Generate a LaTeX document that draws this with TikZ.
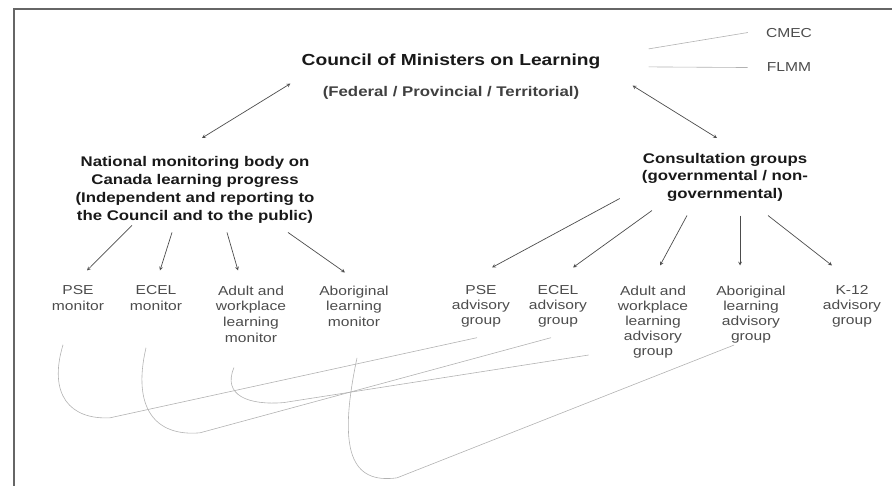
\documentclass[tikz,border=0pt]{standalone}
\usepackage{fontspec}
\setmainfont{Liberation Sans}[FakeStretch=1.2]
\usepackage{tikz}
\usepackage{xcolor}
\tikzstyle{head} = [font=\bfseries, text=black!90, inner sep=0pt, align=center, anchor=north]
\tikzstyle{leaf} = [text=black!70, inner sep=0pt, align=center, anchor=north]
\tikzstyle{arr} = [->, >=stealth, black!70, line width=0.7pt]
\tikzstyle{twoway} = [<->, >=stealth, black!70, line width=0.7pt]
\tikzstyle{swoosh} = [black!30, line width=0.6pt]
\tikzstyle{frame} = [black!60, line width=2.5pt]
\newcommand{\bigsize}{\fontsize{16}{19}\selectfont}
\newcommand{\midsize}{\fontsize{14}{18}\selectfont}
\newcommand{\smallsize}{\fontsize{13}{15.7}\selectfont}

\begin{document}
\begin{tikzpicture}[x=1pt,y=-1pt]
  \useasboundingbox (0,0) rectangle (892,486);
  \draw[frame] (14,486) -- (14,9) -- (892,9);

  \node[head, anchor=base, font=\bfseries\bigsize] (council) at (451,66) {Council of Ministers on Learning};
  \node[head, anchor=base, font=\bfseries\fontsize{14}{17}\selectfont, text=black!75] (fed) at (451,97) {(Federal / Provincial / Territorial)};
  \node[leaf, anchor=base, font=\smallsize] (cmec) at (789,38) {CMEC};
  \node[leaf, anchor=base, font=\smallsize] (flmm) at (789,72) {FLMM};

  \node[head, font=\bfseries\midsize] (nat) at (195,156) {National monitoring body on\\Canada learning progress\\(Independent and reporting to\\the Council and to the public)};
  \node[head, font=\bfseries\fontsize{14}{17.5}\selectfont] (cons) at (725,153) {Consultation groups\\(governmental / non-\\governmental)};

  % monitors
  \node[leaf, font=\smallsize] (psem) at (78,285.5) {PSE\\monitor};
  \node[leaf, font=\smallsize] (ecelm) at (156,285.5) {ECEL\\monitor};
  \node[leaf, font=\smallsize] (adultm) at (251,285.5) {Adult and\\workplace\\learning\\monitor};
  \node[leaf, font=\smallsize] (aborm) at (354,285.5) {Aboriginal\\learning\\monitor};

  % advisory groups
  \node[leaf, font=\fontsize{13}{15}\selectfont] (psea) at (481,285.5) {PSE\\advisory\\group};
  \node[leaf, font=\fontsize{13}{15}\selectfont] (ecela) at (558,285.5) {ECEL\\advisory\\group};
  \node[leaf, font=\fontsize{13}{15}\selectfont] (adulta) at (653,285.5) {Adult and\\workplace\\learning\\advisory\\group};
  \node[leaf, font=\fontsize{13}{15}\selectfont] (abora) at (751,285.5) {Aboriginal\\learning\\advisory\\group};
  \node[leaf, font=\fontsize{13}{15}\selectfont] (k12a) at (852,285.5) {K-12\\advisory\\group};

  \draw[swoosh] ([shift={(48,-13)}]council.east) -- ([shift={(-18,-1)}]cmec.west);
  \draw[swoosh] ([shift={(48,5)}]council.east) -- ([shift={(-19,0)}]flmm.west);

  \draw[twoway] ([shift={(7,-18)}]nat.north) -- ([shift={(-11,14)}]council.south west);
  \draw[twoway] ([shift={(32,16)}]council.south east) -- ([shift={(-8,-15)}]cons.north);

  \draw[arr] ([shift={(-63,2)}]nat.south) -- ([shift={(9,-15)}]psem.north);
  \draw[arr] ([shift={(-23,9)}]nat.south) -- ([shift={(4,-15)}]ecelm.north);
  \draw[arr] ([shift={(32,9)}]nat.south) -- ([shift={(-13,-15)}]adultm.north);
  \draw[arr] ([shift={(93,9)}]nat.south) -- ([shift={(-9,-13)}]aborm.north);

  \draw[arr] ([shift={(-22,-3)}]cons.south west) -- ([shift={(11,-18)}]psea.north);
  \draw[arr] ([shift={(-73,9)}]cons.south) -- ([shift={(15,-18)}]ecela.north);
  \draw[arr] ([shift={(-38,14)}]cons.south) -- ([shift={(7,-20)}]adulta.north);
  \draw[arr] ([shift={(15,14)}]cons.south) -- ([shift={(-11,-20)}]abora.north);
  \draw[arr] ([shift={(43,14)}]cons.south) -- ([shift={(-20,-20)}]k12a.north);

  % links between monitors and advisory groups
  \draw[swoosh] ([shift={(-15,34)}]psem.south) .. controls +(-15,50) and +(-40,2) .. ++(47,73) -- ([shift={(-4,10)}]psea.south);
  \draw[swoosh] ([shift={(-10,37)}]ecelm.south) .. controls +(-14,60) and +(-45,4) .. ++(54,85) -- ([shift={(-7,10)}]ecela.south);
  \draw[swoosh] ([shift={(-17,25)}]adultm.south) .. controls +(-12,28) and +(-35,3) .. ++(50,35) -- ([shift={(-29,-3)}]adulta.south west);
  \draw[swoosh] ([shift={(3,31)}]aborm.south) .. controls +(-20,95) and +(-45,6) .. ++(40,120) -- ([shift={(18,2)}]abora.south west);
\end{tikzpicture}
\end{document}
